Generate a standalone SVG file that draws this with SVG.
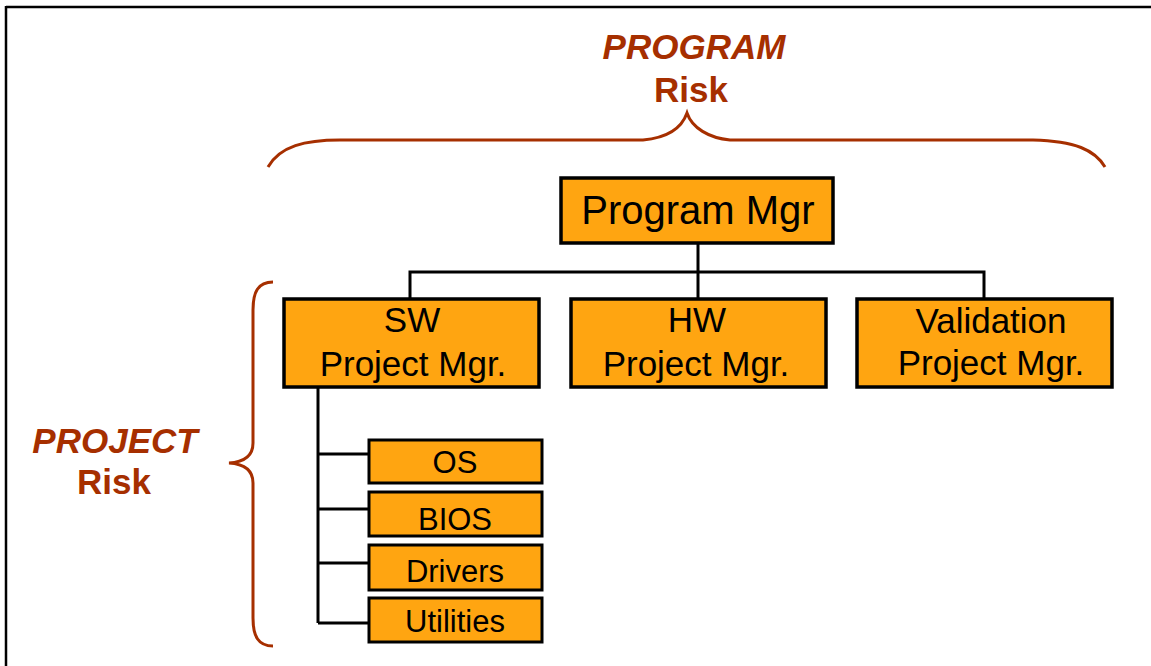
<svg xmlns="http://www.w3.org/2000/svg" width="1151" height="666" viewBox="0 0 1151 666">
  <style>
    .box { fill: #FFA511; stroke: #000; stroke-width: 3.5; }
    .small { fill: #FFA511; stroke: #000; stroke-width: 3; }
    .lbl { font-family: "Liberation Sans", Arial, sans-serif; fill: #000; text-anchor: middle; }
    .big { font-size: 35px; }
    .title { font-size: 40px; }
    .sub { font-size: 31px; }
    .risk { font-family: "Liberation Sans", Arial, sans-serif; font-size: 35px; font-weight: bold; fill: #A62F00; text-anchor: middle; }
    .brace { fill: none; stroke: #A62F00; stroke-width: 3; }
    .wire { fill: none; stroke: #000; stroke-width: 3; }
  </style>

  <!-- frame edges -->
  <rect width="1151" height="666" fill="#fff"/>
  <line x1="6" y1="7" x2="1151" y2="7" stroke="#000" stroke-width="2.5"/>
  <line x1="6" y1="6" x2="6" y2="666" stroke="#000" stroke-width="2.5"/>

  <!-- risk scopes -->
  <g id="program-risk">
    <text class="risk" x="694" y="59" font-style="italic">PROGRAM</text>
    <text class="risk" x="691" y="102">Risk</text>
    <path class="brace" d="M268,167 C280,146 305,140 340,140 L643,140 C665,138 681,130 687,113 C692,128 709,138 730,140 L1033,140 C1075,141 1095,150 1105,167"/>
  </g>
  <g id="project-risk">
    <text class="risk" x="115" y="453" font-style="italic">PROJECT</text>
    <text class="risk" x="114" y="494">Risk</text>
    <path class="brace" d="M273,282 C258,282 253,292 253,310 L253,443 C253,455 245,462 229,463 C245,464 253,471 253,483 L253,618 C253,636 258,646 273,646"/>
  </g>

  <!-- connectors -->
  <g id="connectors">
    <path class="wire" d="M698,243 L698,299"/>
    <path class="wire" d="M410,299 L410,272 L984,272 L984,299"/>
    <path class="wire" d="M318,387 L318,623"/>
    <path class="wire" d="M318,454 L368,454 M318,509 L368,509 M318,563 L368,563 M318,623 L368,623"/>
  </g>

  <g id="program-mgr">
    <rect class="box" x="561" y="178" width="272" height="65"/>
    <text class="lbl title" x="698" y="224">Program Mgr</text>
  </g>

  <g id="sw-pm">
    <rect class="box" x="284" y="299" width="255" height="88"/>
    <text class="lbl big" x="412" y="332">SW</text>
    <text class="lbl big" x="413" y="376">Project Mgr.</text>
  </g>

  <g id="hw-pm">
    <rect class="box" x="571" y="299" width="255" height="88"/>
    <text class="lbl big" x="697" y="332">HW</text>
    <text class="lbl big" x="696" y="376">Project Mgr.</text>
  </g>

  <g id="validation-pm">
    <rect class="box" x="857" y="299" width="255" height="88"/>
    <text class="lbl big" x="991" y="333">Validation</text>
    <text class="lbl big" x="991" y="375">Project Mgr.</text>
  </g>

  <g id="os">
    <rect class="small" x="369" y="440" width="173" height="43"/>
    <text class="lbl sub" x="455" y="473">OS</text>
  </g>
  <g id="bios">
    <rect class="small" x="369" y="492" width="173" height="44"/>
    <text class="lbl sub" x="455" y="530">BIOS</text>
  </g>
  <g id="drivers">
    <rect class="small" x="369" y="545" width="173" height="45"/>
    <text class="lbl sub" x="455" y="582">Drivers</text>
  </g>
  <g id="utilities">
    <rect class="small" x="369" y="598" width="173" height="44"/>
    <text class="lbl sub" x="455" y="632">Utilities</text>
  </g>
</svg>
